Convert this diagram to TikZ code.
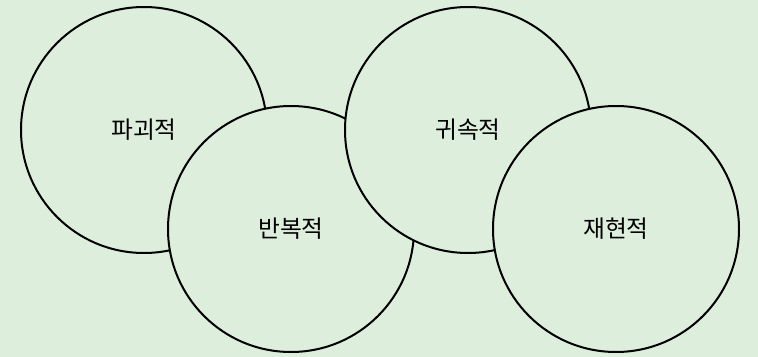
\documentclass[tikz,border=0pt]{standalone}
\usepackage{fontspec}
\newfontfamily\krfont{Noto Sans CJK KR}
\usetikzlibrary{positioning}
\definecolor{bgreen}{HTML}{DEEEDC}

\begin{document}
\begin{tikzpicture}[
    x=0.75pt, y=-0.75pt,
    blob/.style={circle, draw, line width=1.5pt, fill=bgreen,
                 minimum size=184.5pt, inner sep=0pt, font=\krfont\fontsize{17.8}{20}\selectfont}
]

% Background
\fill[bgreen] (0,0) rectangle (758,357);
\useasboundingbox (0,0) rectangle (758,357);

% Circles, drawn left to right so each covers the previous one
\node[blob] (destr) at (144,130) {파괴적};
\node[blob] (repet) at (291,229) {반복적};
\node[blob] (attri) at (468,130) {귀속적};
\node[blob] (repro) at (616,229) {재현적};

\end{tikzpicture}
\end{document}
